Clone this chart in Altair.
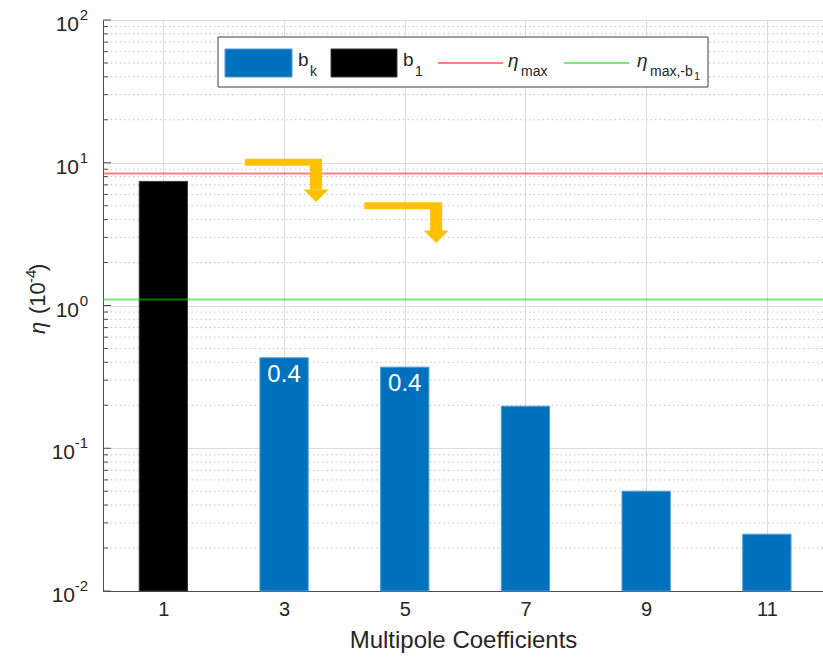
import altair as alt
import pandas as pd

# Multipole coefficients and their contribution (units of 1e-4)
k = [1, 3, 5, 7, 9, 11]
eta = [7.4, 0.43, 0.37, 0.197, 0.050, 0.025]
group = ["b1", "bk", "bk", "bk", "bk", "bk"]
labelled_k = [3, 5]

# Limits drawn as horizontal lines
eta_max = 8.4
eta_max_minus_b1 = 1.1

# Axis ticks
x_ticks = [1, 3, 5, 7, 9, 11]
y_decades = [0.01, 0.1, 1, 10, 100]
y_exponents = ["-2", "-1", "0", "1", "2"]

# Bent annotation arrows (in data units)
arrow_x_start = [2.35, 4.33]
arrow_x_end = [3.63, 5.62]
arrow_x_stem = [3.53, 5.52]
arrow_y_level = [10.1, 5.0]
arrow_y_head = [6.5, 3.3]
arrow_y_tip = [5.3, 2.74]

BLUE = "#0072BD"
AMBER = "#FFC000"
TXT = "#262626"
FONT = "Liberation Sans"
X_TITLE = "Multipole Coefficients"
Y_TITLE = "η (10⁻⁴)"

W, H = 720, 571

bars = pd.DataFrame({"k": k, "eta": eta, "group": group})
one = pd.DataFrame({"n": [0]})
minor = pd.DataFrame({"v": [m * 10.0 ** e for e in range(-2, 2) for m in range(2, 10)]})
major = pd.DataFrame({"v": y_decades, "exp": y_exponents})
arrows = pd.DataFrame({
    "x0": arrow_x_start, "x1": arrow_x_end, "xs": arrow_x_stem,
    "yl": arrow_y_level, "yh": arrow_y_head, "yt": arrow_y_tip,
})

xscale = alt.Scale(domain=[0, 11.93], nice=False, zero=False)
yscale = alt.Scale(type="log", domain=[0.01, 100], nice=False)

# Dotted minor grid (under the bars)
minor_grid = alt.Chart(minor).mark_rule(color="#c4c4c4", strokeDash=[1.5, 3], strokeWidth=1).encode(
    y=alt.Y("v:Q", scale=yscale, title=Y_TITLE, axis=alt.Axis(
        values=y_decades, grid=True, gridColor="#dcdcdc", ticks=False,
        domainColor="#4d4d4d", labels=False, title=None,
    )),
)

bar_layer = alt.Chart(bars).transform_calculate(
    lo="datum.k - 0.4", hi="datum.k + 0.4"
).mark_rect(strokeWidth=1).encode(
    x=alt.X("lo:Q", scale=xscale, axis=alt.Axis(
        values=x_ticks, format="d", grid=True, gridColor="#dcdcdc", ticks=False,
        domainColor="#4d4d4d", labelFontSize=20, labelColor=TXT, labelPadding=8,
        title=X_TITLE, titleFontSize=24, titleFontWeight="normal",
        titleColor=TXT, titlePadding=9, labelFont=FONT, titleFont=FONT,
    )),
    x2="hi:Q",
    y=alt.Y("eta:Q", title=Y_TITLE),
    y2=alt.datum(0.01),
    fill=alt.Color("group:N", scale=alt.Scale(domain=["b1", "bk"], range=["#000000", BLUE]), legend=None),
    stroke=alt.Color("group:N", scale=alt.Scale(domain=["b1", "bk"], range=["#3a3a3a", "#4a9ad6"]), legend=None),
)

red_line = alt.Chart(one).mark_rule(color="#FF0000", opacity=0.5, strokeWidth=2).encode(
    y=alt.datum(eta_max)
)
green_line = alt.Chart(one).mark_rule(color="#00E000", opacity=0.55, strokeWidth=2).encode(
    y=alt.datum(eta_max_minus_b1)
)

bar_labels = alt.Chart(bars).transform_filter(
    alt.FieldOneOfPredicate(field="k", oneOf=labelled_k)
).mark_text(color="white", fontSize=24, baseline="top", dy=5, font=FONT).encode(
    x=alt.X("k:Q", title=X_TITLE),
    y=alt.Y("eta:Q", title=Y_TITLE),
    text=alt.Text("eta:Q", format=".1f"),
)

# Inward ticks on the left axis
minor_ticks = alt.Chart(minor).mark_rule(color="#4d4d4d").encode(
    y=alt.Y("v:Q", title=Y_TITLE), x=alt.value(0), x2=alt.value(5)
)
major_ticks = alt.Chart(major).mark_rule(color="#4d4d4d").encode(
    y=alt.Y("v:Q", title=Y_TITLE), x=alt.value(0), x2=alt.value(8)
)

# Decade labels 10^n: exponent raised and smaller, whole label right-aligned
exp_labels = alt.Chart(major).mark_text(
    align="right", baseline="alphabetic", fontSize=15, color=TXT, font=FONT
).encode(y=alt.Y("v:Q", title=Y_TITLE), x=alt.value(-15), text="exp:N")
base_short = alt.Chart(major).transform_filter("length(datum.exp) == 1").mark_text(
    align="right", baseline="alphabetic", dy=11, fontSize=21, color=TXT, font=FONT
).encode(y=alt.Y("v:Q", title=Y_TITLE), x=alt.value(-24), text=alt.value("10"))
base_long = alt.Chart(major).transform_filter("length(datum.exp) > 1").mark_text(
    align="right", baseline="alphabetic", dy=11, fontSize=21, color=TXT, font=FONT
).encode(y=alt.Y("v:Q", title=Y_TITLE), x=alt.value(-28), text=alt.value("10"))

# Arrows: horizontal arm, vertical stem, triangular head
arrow_h = alt.Chart(arrows).mark_rule(color=AMBER, strokeWidth=7, strokeCap="butt").encode(
    x=alt.X("x0:Q", title=X_TITLE), x2="x1:Q",
    y=alt.Y("yl:Q", title=Y_TITLE),
)
arrow_v = alt.Chart(arrows).mark_rule(color=AMBER, strokeWidth=12, strokeCap="butt").encode(
    x=alt.X("xs:Q", title=X_TITLE),
    y=alt.Y("yl:Q", title=Y_TITLE), y2="yh:Q",
)
arrow_head = alt.Chart(arrows).mark_point(
    shape="M-1,-1L1,-1L0,0Z", filled=True, color=AMBER, opacity=1, size=625, strokeWidth=0
).encode(
    x=alt.X("xs:Q", title=X_TITLE),
    y=alt.Y("yt:Q", title=Y_TITLE),
)

# Hand-built pieces for the legend and the rotated y title
def box(x, x2, y, y2, **kw):
    return alt.Chart(one).mark_rect(**kw).encode(
        x=alt.value(x), x2=alt.value(x2), y=alt.value(y), y2=alt.value(y2)
    )

def hline(x, x2, y, **kw):
    return alt.Chart(one).mark_rule(**kw).encode(
        x=alt.value(x), x2=alt.value(x2), y=alt.value(y)
    )

def txt(s, x, y, size, italic=False, angle=0):
    kw = dict(fontSize=size, color=TXT, align="left", baseline="alphabetic", font=FONT)
    if italic:
        kw["fontStyle"] = "italic"
    if angle:
        kw["angle"] = angle
    return alt.Chart(pd.DataFrame({"t": [s]})).mark_text(**kw).encode(
        x=alt.value(x), y=alt.value(y), text="t:N"
    )

legend = [
    box(115, 605, 17, 67, fill="white", stroke="#3c3c3c", strokeWidth=1),
    box(122, 189, 29, 57, fill=BLUE, stroke="#4a9ad6", strokeWidth=1),
    txt("b", 195, 46, 19), txt("k", 207, 56, 14),
    box(228, 294, 29, 57, fill="black", stroke="#3a3a3a", strokeWidth=1),
    txt("b", 300, 46, 19), txt("1", 312, 56, 14),
    hline(335, 400, 43, color="#FF0000", opacity=0.5, strokeWidth=2),
    txt("η", 405, 47, 19, italic=True), txt("max", 418, 56, 14),
    hline(461, 526, 43, color="#00E000", opacity=0.55, strokeWidth=2),
    txt("η", 534, 47, 19, italic=True), txt("max,-b", 547, 56, 14), txt("1", 591, 60, 11),
]

y_title = [
    txt("η", -58, 314, 22, italic=True, angle=270),
    txt("(10", -58, 294, 22, angle=270),
    txt("-4", -67, 263, 15, angle=270),
    txt(")", -58, 251, 22, angle=270),
]

chart = alt.layer(
    minor_grid, bar_layer, red_line, green_line, bar_labels,
    minor_ticks, major_ticks, exp_labels, base_short, base_long,
    arrow_h, arrow_v, arrow_head, *legend, *y_title
).properties(
    width=W, height=H,
    background="white",
    autosize=alt.AutoSizeParams(type="none"),
    padding={"left": 103, "top": 20, "right": 0, "bottom": 67},
).configure(font=FONT).configure_view(stroke=None)

chart.save("out.html", embed_options={"renderer": "svg", "actions": False})
